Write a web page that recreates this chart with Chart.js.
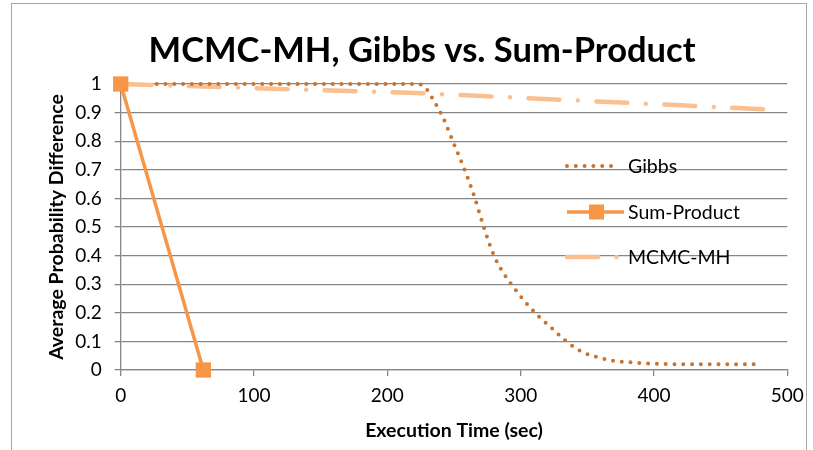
<!DOCTYPE html>
<html>
<head>
<meta charset="utf-8">
<script src="https://cdn.jsdelivr.net/npm/chart.js@4.4.0/dist/chart.umd.min.js"></script>
<style>
	html, body { margin: 0; padding: 0; background: #fff; }
</style>
</head>
<body>
<canvas id="chart1" width="813" height="450"></canvas>
<script>
// chart texts
const chartTitle = 'MCMC-MH, Gibbs vs. Sum-Product';
const xTitle = 'Execution Time (sec)';
const yTitle = 'Average Probability Difference';
const seriesNames = ['Gibbs', 'Sum-Product', 'MCMC-MH'];

// axis ranges / ticks
const xTicks = [0, 100, 200, 300, 400, 500];
const yTicks = [0, 0.1, 0.2, 0.3, 0.4, 0.5, 0.6, 0.7, 0.8, 0.9, 1];

// series
const gibbsTime = [27, 100, 180, 222, 228, 235, 242, 250, 258, 265, 273, 280, 287, 295, 303, 313, 323, 333, 345, 358, 371, 385, 399, 430, 475];
const gibbsDiff = [1, 1, 1, 1, 0.99, 0.94, 0.88, 0.79, 0.70, 0.61, 0.49, 0.40, 0.34, 0.287, 0.24, 0.19, 0.148, 0.105, 0.066, 0.044, 0.031, 0.026, 0.022, 0.02, 0.02];
const sumProductTime = [0, 62];
const sumProductDiff = [1, 0];
const mhTime = [0, 230, 490];
const mhDiff = [1, 0.967, 0.91];

function toPoints(xs, ys){
	var pts = [];
	for(var i = 0; i < xs.length; i++){
		pts.push({x: xs[i], y: ys[i]});
	}
	return pts;
}

var FONT = 'Lato, "Open Sans", sans-serif';
var gridColor = '#868686';

var extras = {
	id: 'extras',
	beforeDraw: function(chart){
		var c = chart.ctx;
		c.save();
		c.fillStyle = '#fff';
		c.fillRect(0, 0, chart.width, chart.height);
		c.strokeStyle = '#a6a6a6';
		c.lineWidth = 1;
		c.strokeRect(11.5, 3.5, 795, 480);
		c.restore();
	},
	afterDraw: function(chart){
		var c = chart.ctx;
		c.save();
		// title
		c.fillStyle = '#000';
		c.font = 'bold 34.5px ' + FONT;
		c.textAlign = 'center';
		c.textBaseline = 'middle';
		c.fillText(chartTitle, 422, 51);

		// legend
		var rows = [166, 212, 257];
		c.font = '19.5px ' + FONT;
		c.textAlign = 'left';
		for(var i = 0; i < chart.data.datasets.length; i++){
			var ds = chart.data.datasets[i];
			var y = rows[i];
			c.save();
			c.strokeStyle = ds.borderColor;
			c.lineWidth = ds.borderWidth;
			c.lineCap = ds.borderCapStyle || 'butt';
			c.setLineDash(ds.borderDash || []);
			c.beginPath();
			c.moveTo(567, y);
			c.lineTo(ds.label == 'Gibbs' ? 619 : 624, y);
			c.stroke();
			c.restore();
			if(ds.pointRadius > 0){
				c.fillStyle = ds.pointBackgroundColor;
				c.fillRect(589, y - 7.5, 15, 15);
			}
			c.fillStyle = '#000';
			c.fillText(ds.label, 628, y + 1);
		}
		c.restore();
	}
};

var ctx = document.getElementById('chart1').getContext('2d');
var myChart = new Chart(ctx, {
	type: 'line',
	data: {
		datasets: [{
			label: seriesNames[0],
			data: toPoints(gibbsTime, gibbsDiff),
			borderColor: '#c9732c',
			borderWidth: 4,
			borderDash: [0, 8.8],
			borderCapStyle: 'round',
			cubicInterpolationMode: 'monotone',
			pointRadius: 0,
			order: 1
		}, {
			label: seriesNames[1],
			data: toPoints(sumProductTime, sumProductDiff),
			borderColor: '#f79646',
			borderWidth: 3.5,
			pointStyle: 'rect',
			pointRadius: 10.8,
			pointBackgroundColor: '#f79646',
			pointBorderWidth: 0,
			order: 0
		}, {
			label: seriesNames[2],
			data: toPoints(mhTime, mhDiff),
			borderColor: '#fac090',
			borderWidth: 4.5,
			borderDash: [31, 18.5, 0, 18.5],
			borderCapStyle: 'round',
			pointRadius: 0,
			order: 2
		}]
	},
	options: {
		responsive: false,
		animation: false,
		clip: false,
		layout: { padding: { left: 20, right: 25.7, top: 84, bottom: 0 } },
		plugins: {
			legend: { display: false },
			title: { display: false },
			tooltip: { enabled: false }
		},
		scales: {
			x: {
				type: 'linear',
				min: xTicks[0],
				max: xTicks[xTicks.length - 1],
				afterBuildTicks: function(scale){ scale.ticks = xTicks.map(function(v){ return {value: v}; }); },
				afterFit: function(scale){ scale.height = 80; },
				grid: { drawOnChartArea: false, color: gridColor, lineWidth: 1.3, tickLength: 6 },
				border: { color: gridColor, width: 1.3 },
				ticks: { autoSkip: false, maxRotation: 0, padding: 8, color: '#000', font: { family: FONT, size: 19 } },
				title: { display: true, text: xTitle, color: '#000', padding: { top: 0, bottom: 7.5 }, font: { family: FONT, size: 19.5, weight: 'bold' } }
			},
			y: {
				type: 'linear',
				min: yTicks[0],
				max: yTicks[yTicks.length - 1],
				afterBuildTicks: function(scale){ scale.ticks = yTicks.map(function(v){ return {value: v}; }); },
				afterFit: function(scale){ scale.width = 100.7; },
				grid: { color: gridColor, lineWidth: 1.3, tickLength: 6 },
				border: { color: gridColor, width: 1.3 },
				ticks: { padding: 13, color: '#000', font: { family: FONT, size: 19 },
					callback: function(v){ return String(Math.round(v * 10) / 10); } },
				title: { display: true, text: yTitle, color: '#000', padding: { top: 25.3, bottom: 0 }, font: { family: FONT, size: 19.5, weight: 'bold' } }
			}
		}
	},
	plugins: [extras]
});
</script>
</body>
</html>
